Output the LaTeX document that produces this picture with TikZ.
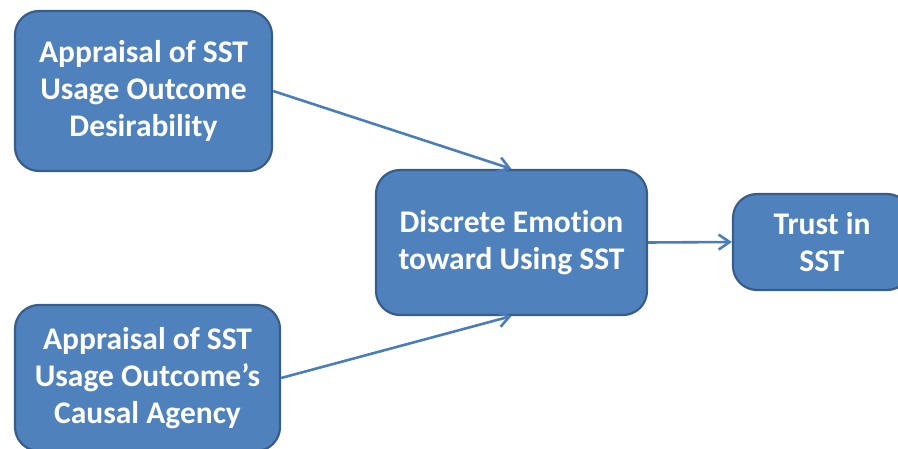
\documentclass[tikz,border=0pt]{standalone}
\usepackage{fontspec}
\setmainfont{Carlito}[Ligatures=NoCommon]
\usetikzlibrary{arrows.meta}
\definecolor{boxfill}{HTML}{4F81BD}
\definecolor{boxline}{HTML}{385D8A}
\definecolor{arrowc}{HTML}{4A7EBB}
\tikzset{
  box/.style={draw=boxline, line width=2.2pt, fill=boxfill, rounded corners=24pt,
    text=white, align=center, inner sep=0pt,
    font=\bfseries\fontsize{31.5}{37}\selectfont},
  conn/.style={draw=arrowc, line width=2.6pt,
    -{Straight Barb[length=11pt,width=15pt,line width=2.6pt]}}
}
\begin{document}
\begin{tikzpicture}[x=1pt,y=-1pt]
\useasboundingbox (0,0) rectangle (898,449);
\clip (0,0) rectangle (898,449);
\node[box, minimum width=257pt, minimum height=160pt] (b1) at (143.5,91)
  {Appraisal of SST\\Usage Outcome\\Desirability};
\node[box, minimum width=265pt, minimum height=146pt] (b2) at (147.5,378)
  {Appraisal of SST\\Usage Outcome’s\\Causal Agency};
\node[box, minimum width=271pt, minimum height=145pt] (b3) at (511.5,242.5)
  {Discrete Emotion\\toward Using SST};
\node[box, minimum width=178pt, minimum height=96pt] (b4) at (822,242)
  {Trust in\\SST};
\draw[conn] (b1.east) -- (b3.north);
\draw[conn] (b2.east) -- (b3.south);
\draw[conn] (b3.east) -- (b4.west);
\end{tikzpicture}
\end{document}
